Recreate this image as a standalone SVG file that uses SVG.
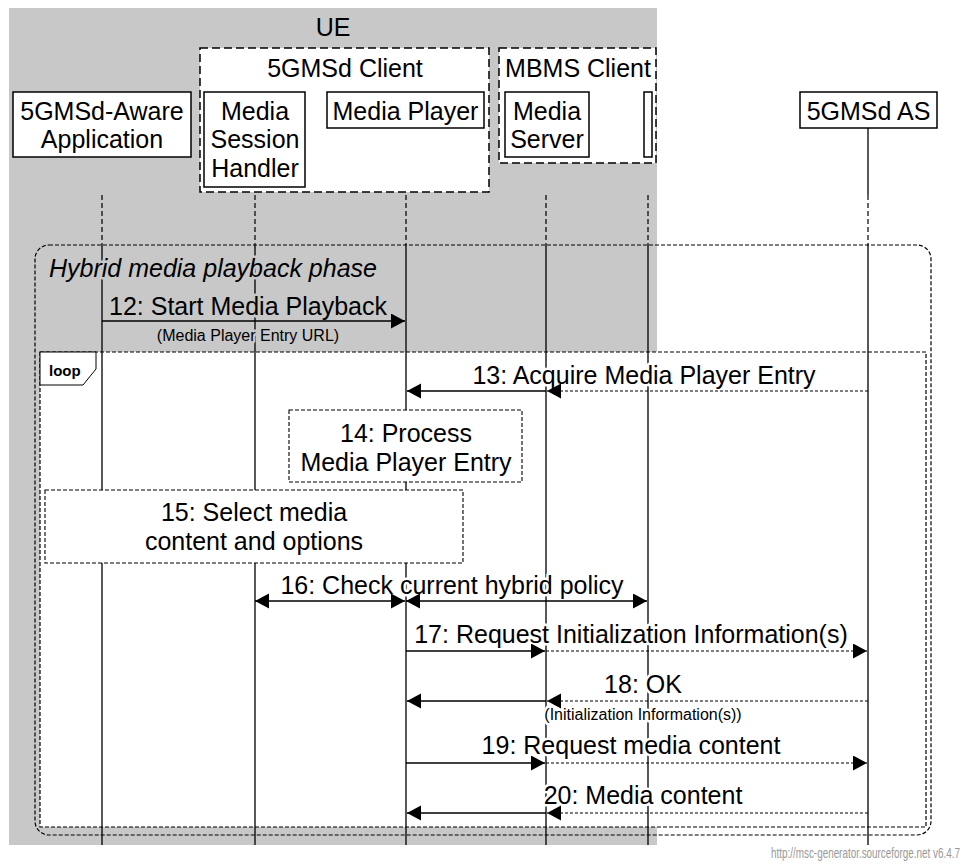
<svg xmlns="http://www.w3.org/2000/svg" width="967" height="868" viewBox="0 0 967 868">
<style>
text{font-family:"Liberation Sans",Arial,sans-serif;font-size:25px;fill:#000}
.c{text-anchor:middle}
.s{font-size:16px}
.hw{paint-order:stroke;stroke:#fff;stroke-width:5;stroke-linejoin:round}
.hg{paint-order:stroke;stroke:#c8c8c8;stroke-width:5;stroke-linejoin:round}
.ent{fill:#fff;stroke:#000;stroke-width:1.5}
.grp{fill:#fff;stroke:#000;stroke-width:1.5;stroke-dasharray:8 4}
.ll{stroke:#000;stroke-width:1.3;fill:none}
.lld{stroke:#000;stroke-width:1.2;stroke-dasharray:5 3;fill:none}
.box{fill:#fff;stroke:#000;stroke-width:1.1;stroke-dasharray:4 2}
.frame{stroke:#000;stroke-width:1.2;stroke-dasharray:4 2}
.sol{stroke:#000;stroke-width:1.6;fill:none;marker-end:url(#ah)}
.das{stroke:#000;stroke-width:1.1;stroke-dasharray:3 2;fill:none;marker-end:url(#ah)}
</style>
<defs>
<marker id="ah" markerUnits="userSpaceOnUse" markerWidth="15" markerHeight="16" refX="14" refY="7.5" orient="auto-start-reverse" viewBox="0 0 15 16">
<path d="M0,0 L14,7.5 L0,15 z" fill="#000" stroke="none"/>
</marker>
</defs>
<rect x="9" y="8" width="648" height="837" fill="#c8c8c8"/>
<text class="c" x="333" y="36">UE</text>
<g id="client5gmsd">
<rect class="grp" x="200" y="48" width="289" height="144"/>
<text class="c" x="345" y="77">5GMSd Client</text>
</g>
<g id="clientmbms">
<rect class="grp" x="499" y="48" width="157" height="115"/>
<text class="c" x="578" y="77">MBMS Client</text>
</g>
<g id="app">
<rect class="ent" x="13" y="92" width="178" height="65"/>
<text class="c" x="102" y="120">5GMSd-Aware</text>
<text class="c" x="102" y="148">Application</text>
</g>
<g id="msh">
<rect class="ent" x="204" y="92" width="101" height="95"/>
<text class="c" x="255" y="120">Media</text>
<text class="c" x="255" y="148">Session</text>
<text class="c" x="255" y="177">Handler</text>
</g>
<g id="mp">
<rect class="ent" x="327" y="92" width="157" height="36"/>
<text class="c" x="405.5" y="120">Media Player</text>
</g>
<g id="ms">
<rect class="ent" x="505" y="92" width="84" height="65"/>
<text class="c" x="547" y="120">Media</text>
<text class="c" x="547" y="148">Server</text>
</g>
<g id="mbmsthin">
<rect class="ent" x="644" y="92" width="8" height="65"/>
</g>
<g id="as">
<rect class="ent" x="800" y="92" width="137" height="36"/>
<text class="c" x="868.5" y="120">5GMSd AS</text>
</g>
<g id="hybrid">
<rect class="frame" x="35" y="245" width="896" height="590" rx="14" fill="none"/>
</g>
<g id="loop">
<rect class="frame" x="40" y="352" width="886" height="475" fill="#fff"/>
</g>
<g id="lifelines">
<path class="lld" d="M102,195V245M255,195V245M406,195V245M546,195V245M648,195V245M868,195V245"/>
<path class="ll" d="M868,128V195"/>
<path class="ll" d="M102,245V845M255,245V845M406,245V845M546,245V845M648,245V845M868,245V845"/>
</g>
<g id="looptag">
<polygon points="40,352 96,352 96,369 83,385 40,385" fill="#fff" stroke="#000" stroke-width="1"/>
<text x="49" y="376" style="font-size:15px;font-weight:bold">loop</text>
</g>
<text class="hg" x="49" y="277" style="font-style:italic">Hybrid media playback phase</text>
<g id="step14">
<rect class="box" x="289" y="410" width="233" height="72"/>
<text class="c" x="406" y="442">14: Process</text>
<text class="c" x="406" y="471">Media Player Entry</text>
</g>
<g id="step15">
<rect class="box" x="45" y="490" width="418" height="73"/>
<text class="c" x="254" y="521">15: Select media</text>
<text class="c" x="254" y="550">content and options</text>
</g>
<g id="labels">
<text class="c hg" x="248" y="315">12: Start Media Playback</text>
<text class="c s hg" x="248" y="341">(Media Player Entry URL)</text>
<text class="c hw" x="644" y="384">13: Acquire Media Player Entry</text>
<text class="c hw" x="452" y="594">16: Check current hybrid policy</text>
<text class="c hw" x="631" y="643">17: Request Initialization Information(s)</text>
<text class="c hw" x="643" y="693">18: OK</text>
<text class="c s hw" x="643" y="720">(Initialization Information(s))</text>
<text class="c hw" x="631" y="754">19: Request media content</text>
<text class="c hw" x="643" y="804">20: Media content</text>
</g>
<g id="connectors">
<path class="sol" d="M102,321H405"/>
<path class="das" d="M868,391H547"/>
<path class="sol" d="M546,391H407"/>
<path class="sol" d="M255,601H405" style="marker-start:url(#ah)"/>
<path class="sol" d="M406,601H647" style="marker-start:url(#ah)"/>
<path class="sol" d="M406,651H545"/>
<path class="das" d="M546,651H867"/>
<path class="das" d="M868,701H547"/>
<path class="sol" d="M546,701H407"/>
<path class="sol" d="M406,763H545"/>
<path class="das" d="M546,763H867"/>
<path class="das" d="M868,813H547"/>
<path class="sol" d="M546,813H407"/>
</g>
<text transform="translate(960,858) scale(0.66,1)" style="font-size:15px;fill:#999;text-anchor:end">http://msc-generator.sourceforge.net v6.4.7</text>
</svg>
